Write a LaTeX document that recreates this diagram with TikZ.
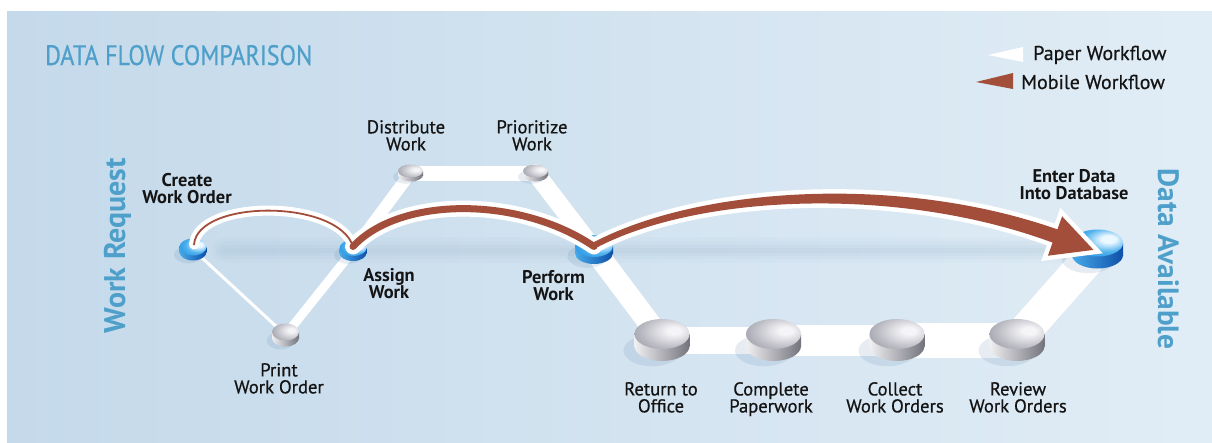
\documentclass[tikz,border=0pt]{standalone}
\usepackage{fontspec}
\setmainfont{PT Sans}
\newfontfamily\lblfont{PT Sans}[FakeBold=0.6]
\usetikzlibrary{calc}
\definecolor{bgl}{RGB}{196,217,234}
\definecolor{bgr}{RGB}{225,237,246}
\definecolor{ttl}{RGB}{78,160,202}
\definecolor{mob}{RGB}{162,78,58}
\definecolor{txt}{RGB}{20,20,20}
\definecolor{blhi}{RGB}{235,248,255}
\definecolor{blmid}{RGB}{80,178,238}
\definecolor{blout}{RGB}{18,132,220}
\definecolor{blsideL}{RGB}{70,170,232}
\definecolor{blsideR}{RGB}{15,80,170}
\definecolor{grhi}{RGB}{245,245,248}
\definecolor{grmid}{RGB}{190,190,198}
\definecolor{grout}{RGB}{120,120,134}
\definecolor{grsideL}{RGB}{240,240,242}
\definecolor{grsideR}{RGB}{115,115,125}
\definecolor{shad}{RGB}{100,140,180}
\pgfdeclareradialshading{bltop}{\pgfpoint{12bp}{8bp}}{color(0bp)=(blhi); color(7bp)=(blhi); color(22bp)=(blmid); color(45bp)=(blout); color(80bp)=(blout)}
\pgfdeclareradialshading{grtop}{\pgfpoint{12bp}{6bp}}{color(0bp)=(grhi); color(6bp)=(grhi); color(25bp)=(grmid); color(52bp)=(grout); color(80bp)=(grout)}
\newcommand\mydisc[5]{%
  \fill[shad, opacity=0.16] ($(#1)+({-0.35*#2},{0.5*#4+0.3*#3})$) ellipse [x radius={1.05*#2}, y radius={1.05*#3}];
  \shade[left color=#5sideL, right color=#5sideR] ($(#1)+(0,{#4/2})$) ellipse [x radius=#2, y radius=#3];
  \shade[left color=#5sideL, right color=#5sideR] ($(#1)+({-#2},{-#4/2})$) rectangle ($(#1)+(#2,{#4/2})$);
  \shade[shading=#5top] ($(#1)+(0,{-#4/2})$) ellipse [x radius=#2, y radius=#3];
}
\tikzset{
  paper/.style={draw=white, line cap=round, line join=round},
  mobw/.style={draw=white, line cap=round, line join=round},
  mobb/.style={draw=mob, line cap=round, line join=miter},
  lbl/.style={font=\lblfont\fontsize{18.6}{17}\selectfont, align=center, inner sep=0pt, anchor=north, text=txt},
  blbl/.style={lbl, font=\fontsize{18.4}{17}\selectfont\bfseries},
  legtxt/.style={font=\lblfont\fontsize{20}{20}\selectfont, inner sep=0pt, anchor=base west, text=txt},
  bigtxt/.style={inner sep=0pt, anchor=base, text=ttl}
}
\begin{document}
\begin{tikzpicture}[x=1pt,y=-1pt]
\useasboundingbox (0,0) rectangle (1212,442);
\shade[left color=bgl, right color=bgr] (7,11) rectangle (1212,442);
% soft horizontal shadow
\foreach \w/\o in {26/0.03,18/0.035,11/0.04,5/0.04}
  \draw[shad, line width=\w, opacity=\o, line cap=round] (225,250) -- (1070,250);
% disc positions (body centres)
\coordinate (create) at (193,249.5);
\coordinate (print) at (285.5,335);
\coordinate (assign) at (353,250.5);
\coordinate (distribute) at (410.5,173);
\coordinate (prioritize) at (535.5,173);
\coordinate (perform) at (594,249.5);
\coordinate (return) at (662,340);
\coordinate (complete) at (773.5,340);
\coordinate (collect) at (897,340);
\coordinate (review) at (1017,340);
\coordinate (enter) at (1097.5,249);
% paper workflow
\draw[paper, line width=3] (create) -- (print);
\draw[paper, line width=9] (print) -- (assign);
\draw[paper, line width=12] (assign) -- (distribute);
\draw[paper, line width=15] (distribute) -- (prioritize);
\draw[paper, line width=18] (prioritize) -- (perform);
\draw[paper, line width=22] (perform) -- (return);
\draw[paper, line width=27] (return) -- (complete);
\draw[paper, line width=31] (complete) -- (collect);
\draw[paper, line width=35] (collect) -- (review);
\draw[paper, line width=33] (review) -- (enter);
% discs
\mydisc{create}{13.5}{8.5}{5}{bl}
\mydisc{assign}{13.5}{8}{5}{bl}
\mydisc{print}{13.5}{8.5}{6}{gr}
\mydisc{distribute}{12.5}{6.5}{4}{gr}
\mydisc{prioritize}{12.5}{6.5}{4}{gr}
\mydisc{perform}{19}{11}{7}{bl}
\mydisc{return}{27.5}{15}{12}{gr}
\mydisc{complete}{27.5}{15}{12}{gr}
\mydisc{collect}{27.5}{15}{12}{gr}
\mydisc{review}{27.5}{15}{12}{gr}
\mydisc{enter}{25.5}{13.5}{12}{bl}
% mobile workflow: white outlines
\draw[mobw, line width=10] ([shift={(1,-5)}]create) .. controls (198,199) and (338,199) .. ([shift={(0,-4)}]assign);
\draw[mobw, line width=16] ([shift={(0,-4)}]assign) .. controls (400,196) and (520,196) .. ([shift={(0,-3)}]perform);
\path[draw=white, line width=9, line join=miter]
  ([shift={(-0.4,-7.2)}]perform) .. controls (701,186) and (901.5,174.5) .. ([shift={(-40.1,-19.6)}]enter)
  -- ([shift={(-35.4,-32.7)}]enter) -- ([shift={(-4,0.9)}]enter) -- ([shift={(-49.6,6.7)}]enter)
  -- ([shift={(-44.9,-6.4)}]enter) .. controls (898.5,185.5) and (699,194) .. ([shift={(2.4,-1.8)}]perform) -- cycle;
% mobile workflow: brown
\draw[mobb, line width=1.8] ([shift={(1,-5)}]create) .. controls (198,199) and (338,199) .. ([shift={(0,-4)}]assign);
\draw[mobb, line width=7] ([shift={(0,-4)}]assign) .. controls (400,196) and (520,196) .. ([shift={(0,-3)}]perform);
\fill[mob]
  ([shift={(-0.4,-7.2)}]perform) .. controls (701,186) and (901.5,174.5) .. ([shift={(-40.1,-19.6)}]enter)
  -- ([shift={(-35.4,-32.7)}]enter) -- ([shift={(-4,0.9)}]enter) -- ([shift={(-49.6,6.7)}]enter)
  -- ([shift={(-44.9,-6.4)}]enter) .. controls (898.5,185.5) and (699,194) .. ([shift={(2.4,-1.8)}]perform) -- cycle;
% labels
\node[blbl] (lcreate) at (187,173) {Create\\Work Order};
\node[lbl] (lprint) at (279,363) {Print\\Work Order};
\node[lbl] (ldistribute) at (406,120) {Distribute\\Work};
\node[lbl] (lprioritize) at (532,120) {Prioritize\\Work};
\node[blbl] (lassign) at (389,268) {Assign\\Work};
\node[blbl] (lperform) at (553.5,270) {Perform\\Work};
\node[lbl] (lreturn) at (661,382) {Return to\\Office};
\node[lbl] (lcomplete) at (771,382) {Complete\\Paperwork};
\node[lbl] (lcollect) at (895,382) {Collect\\Work Orders};
\node[lbl] (lreview) at (1018,382) {Review\\Work Orders};
\node[blbl] (lenter) at (1074,169) {Enter Data\\Into Database};
% big texts
\node[bigtxt, anchor=base west] (title) at (45,65) {\resizebox{267pt}{20pt}{\lblfont DATA FLOW COMPARISON}};
\node[bigtxt, rotate=90] (wreq) at (125,245.5) {\resizebox{175pt}{!}{\bfseries Work Request}};
\node[bigtxt, rotate=-90] (davail) at (1158,259) {\resizebox{181pt}{!}{\bfseries Data Available}};
% legend
\fill[white] (1023,47) -- (1023,62) -- (988,55) -- cycle;
\node[legtxt] (lpaper) at (1033,60) {Paper Workflow};
\fill[mob] (1013,73) -- (1013,89) -- (976,82) -- cycle;
\node[legtxt] (lmobile) at (1021,89) {Mobile Workflow};
\end{tikzpicture}
\end{document}
